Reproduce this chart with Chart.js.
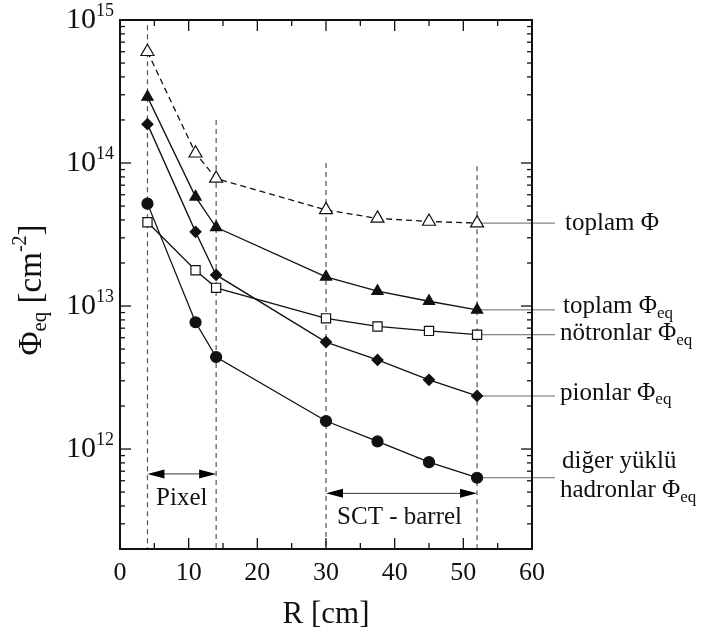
<!DOCTYPE html>
<html>
<head>
<meta charset="utf-8">
<script src="https://cdn.jsdelivr.net/npm/chart.js@4.4.1/dist/chart.umd.min.js"></script>
<style>
  html, body { margin: 0; padding: 0; background: #fff; }
  #fluence { display: block; }
</style>
</head>
<body>
<canvas id="fluence" width="711" height="637"></canvas>
<script>
// radius of the barrel layers [cm]
const radii = [4, 11, 14, 30, 37.5, 45, 52];

// fluence per cm^2
const toplamPhi = [6.0e14, 1.17e14, 7.8e13, 4.7e13, 4.1e13, 3.9e13, 3.8e13];
const toplamPhiEq = [2.9e14, 5.8e13, 3.55e13, 1.6e13, 1.27e13, 1.08e13, 9.4e12];
const notronlar = [3.85e13, 1.78e13, 1.34e13, 8.2e12, 7.2e12, 6.7e12, 6.3e12];
const pionlar = [1.87e14, 3.3e13, 1.65e13, 5.6e12, 4.2e12, 3.05e12, 2.35e12];
const digerHadronlar = [5.2e13, 7.7e12, 4.4e12, 1.57e12, 1.13e12, 8.1e11, 6.3e11];

// axis ticks
const xMajorTicks = [0, 10, 20, 30, 40, 50, 60];
const xMinorTicks = [5, 15, 25, 35, 45, 55];
const yDecades = [12, 13, 14, 15];

// detector regions: vertical guides (R, top value) and arrows
const guideR = [4, 14, 30, 52];
const guideTop = [9.2e14, 2.0e14, 1.0e14, 9.5e13];
const pixelRegion = [4, 14];
const sctRegion = [30, 52];
const pixelArrowLevel = 6.7e11;
const sctArrowLevel = 4.9e11;
const pixelLabelLevel = 4.5e11;
const sctLabelLevel = 3.3e11;

const SERIF = '"Liberation Serif", "DejaVu Serif", serif';

function drawRich(ctx, parts, x, y, align = "left") {
  ctx.textAlign = "left";
  let total = 0;
  parts.forEach((p) => {
    ctx.font = `${p.size}px ${SERIF}`;
    total += ctx.measureText(p.t).width;
  });
  let cx = align === "right" ? x - total : align === "center" ? x - total / 2 : x;
  parts.forEach((p) => {
    ctx.font = `${p.size}px ${SERIF}`;
    ctx.fillText(p.t, cx, y + (p.dy || 0));
    cx += ctx.measureText(p.t).width;
  });
}

function arrowHead(ctx, x, y, dir) {
  ctx.beginPath();
  ctx.moveTo(x, y);
  ctx.lineTo(x - dir * 17, y - 4.5);
  ctx.lineTo(x - dir * 17, y + 4.5);
  ctx.closePath();
  ctx.fill();
}

const decorations = {
  id: "decorations",
  beforeDatasetsDraw(chart) {
    const { ctx, chartArea: a, scales: { x, y } } = chart;
    ctx.save();
    // vertical guides
    ctx.strokeStyle = "#555";
    ctx.lineWidth = 1.2;
    ctx.setLineDash([5, 4]);
    guideR.forEach((r, i) => {
      const px = x.getPixelForValue(r);
      ctx.beginPath();
      ctx.moveTo(px, y.getPixelForValue(guideTop[i]));
      ctx.lineTo(px, a.bottom);
      ctx.stroke();
    });
    ctx.setLineDash([]);

    // leader lines to the labels
    ctx.strokeStyle = "#666";
    ctx.lineWidth = 1;
    const lastIdx = radii.length - 1;
    [toplamPhi, toplamPhiEq, notronlar, pionlar, digerHadronlar].forEach((s) => {
      const py = y.getPixelForValue(s[lastIdx]);
      ctx.beginPath();
      ctx.moveTo(x.getPixelForValue(radii[lastIdx]), py);
      ctx.lineTo(a.right + 23, py);
      ctx.stroke();
    });

    // region arrows
    ctx.strokeStyle = "#333";
    ctx.fillStyle = "#000";
    [[pixelRegion, pixelArrowLevel], [sctRegion, sctArrowLevel]].forEach(([reg, lvl]) => {
      const x1 = x.getPixelForValue(reg[0]);
      const x2 = x.getPixelForValue(reg[1]);
      const py = y.getPixelForValue(lvl);
      ctx.beginPath();
      ctx.moveTo(x1 + 10, py);
      ctx.lineTo(x2 - 10, py);
      ctx.stroke();
      arrowHead(ctx, x1, py, -1);
      arrowHead(ctx, x2, py, 1);
    });
    ctx.fillStyle = "#111";
    ctx.textBaseline = "middle";
    ctx.textAlign = "center";
    ctx.font = `25px ${SERIF}`;
    ctx.fillText("Pixel", x.getPixelForValue((pixelRegion[0] + pixelRegion[1]) / 2), y.getPixelForValue(pixelLabelLevel));
    ctx.fillText("SCT - barrel", x.getPixelForValue((sctRegion[0] + sctRegion[1]) / 2) - 2, y.getPixelForValue(sctLabelLevel));
    ctx.restore();
  },
  afterDraw(chart) {
    const { ctx, chartArea: a, scales: { x, y } } = chart;
    ctx.save();
    ctx.strokeStyle = "#111";
    ctx.fillStyle = "#111";

    // inward ticks on all four sides
    ctx.lineWidth = 1.3;
    const tick = (x0, y0, x1, y1) => {
      ctx.beginPath();
      ctx.moveTo(x0, y0);
      ctx.lineTo(x1, y1);
      ctx.stroke();
    };
    xMajorTicks.forEach((v) => {
      const px = x.getPixelForValue(v);
      tick(px, a.bottom, px, a.bottom - 11);
      tick(px, a.top, px, a.top + 11);
    });
    xMinorTicks.forEach((v) => {
      const px = x.getPixelForValue(v);
      tick(px, a.bottom, px, a.bottom - 6);
      tick(px, a.top, px, a.top + 6);
    });
    for (let d = 11; d <= 14; d++) {
      for (let m = 1; m <= 9; m++) {
        const v = m * Math.pow(10, d);
        if (v < y.min || v > y.max) continue;
        const py = y.getPixelForValue(v);
        const len = m === 1 ? 11 : 5;
        tick(a.left, py, a.left + len, py);
        tick(a.right, py, a.right - len, py);
      }
    }

    // frame
    ctx.lineWidth = 2;
    ctx.strokeRect(a.left, a.top, a.right - a.left, a.bottom - a.top);

    // tick labels
    ctx.textBaseline = "middle";
    ctx.textAlign = "center";
    ctx.font = `26px ${SERIF}`;
    xMajorTicks.forEach((v) => {
      ctx.fillText(String(v), x.getPixelForValue(v), a.bottom + 24);
    });
    yDecades.forEach((d) => {
      const py = y.getPixelForValue(Math.pow(10, d));
      drawRich(ctx, [
        { t: "10", size: 30 },
        { t: String(d), size: 18, dy: -9 },
      ], a.left - 6, py, "right");
    });

    // axis titles
    ctx.font = `31px ${SERIF}`;
    ctx.textAlign = "center";
    ctx.fillText("R [cm]", x.getPixelForValue(30), a.bottom + 66);

    ctx.save();
    ctx.translate(32, 290);
    ctx.rotate(-Math.PI / 2);
    drawRich(ctx, [
      { t: "Φ", size: 33 },
      { t: "eq", size: 21, dy: 8 },
      { t: " [cm", size: 33 },
      { t: "-2", size: 20, dy: -11 },
      { t: "]", size: 33 },
    ], 0, 0, "center");
    ctx.restore();

    // series labels
    const lx = a.right + 30;
    const lastIdx = radii.length - 1;
    const ly = (s) => y.getPixelForValue(s[lastIdx]);
    const eq = [{ t: "eq", size: 17, dy: 7 }];
    drawRich(ctx, [{ t: "toplam Φ", size: 25 }], lx + 3, ly(toplamPhi));
    drawRich(ctx, [{ t: "toplam Φ", size: 25 }, ...eq], lx + 1, ly(toplamPhiEq) - 3);
    drawRich(ctx, [{ t: "nötronlar Φ", size: 25 }, ...eq], lx - 2, ly(notronlar) - 1);
    drawRich(ctx, [{ t: "pionlar Φ", size: 25 }, ...eq], lx - 2, ly(pionlar) - 3);
    drawRich(ctx, [{ t: "diğer yüklü", size: 25 }], lx, ly(digerHadronlar) - 16);
    drawRich(ctx, [{ t: "hadronlar Φ", size: 25 }, ...eq], lx - 2, ly(digerHadronlar) + 13);
    ctx.restore();
  },
};

function series(data, style, fill, radius, dashed = false) {
  return {
    data: radii.map((r, i) => ({ x: r, y: data[i] })),
    borderColor: "#111",
    borderWidth: 1.3,
    borderDash: dashed ? [6, 4] : [],
    pointStyle: style,
    pointRadius: radius,
    pointBackgroundColor: fill,
    pointBorderColor: "#111",
    pointBorderWidth: 1.2,
    tension: 0,
    fill: false,
  };
}

new Chart(document.getElementById("fluence"), {
  type: "line",
  data: {
    datasets: [
      series(toplamPhi, "triangle", "#fff", 7.5, true),
      series(toplamPhiEq, "triangle", "#111", 6.5),
      series(notronlar, "rect", "#fff", 6.5),
      series(pionlar, "rectRot", "#111", 5.5),
      series(digerHadronlar, "circle", "#111", 5.5),
    ],
  },
  options: {
    responsive: false,
    devicePixelRatio: 1,
    animation: false,
    layout: { padding: { left: 120, right: 179, top: 20, bottom: 88 } },
    scales: {
      x: { type: "linear", min: 0, max: 60, display: false },
      y: { type: "logarithmic", min: 2e11, max: 1e15, display: false },
    },
    plugins: {
      legend: { display: false },
      tooltip: { enabled: false },
    },
  },
  plugins: [decorations],
});
</script>
</body>
</html>
